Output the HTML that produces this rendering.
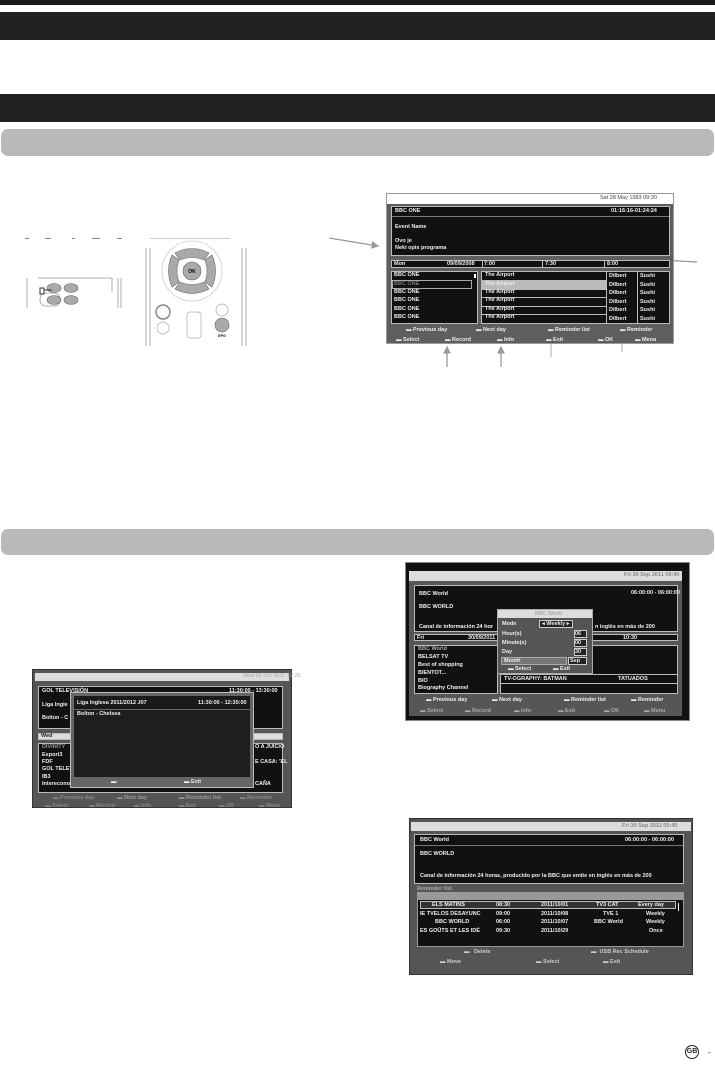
<!DOCTYPE html>
<html><head><meta charset="utf-8"><style>
*{margin:0;padding:0;box-sizing:border-box}
body{width:715px;height:1067px;background:#fff;position:relative;overflow:hidden;font-family:"Liberation Sans",sans-serif}
.a{position:absolute}
.t{position:absolute;font-size:5.5px;font-weight:bold;color:#eee;white-space:nowrap;line-height:1}
.bx{position:absolute;background:#111;border:1px solid #bbb}
</style></head><body>
<!-- headers -->
<div class="a" style="left:0;top:0;width:715px;height:5px;background:#1a1a1a"></div>
<div class="a" style="left:0;top:12px;width:715px;height:28px;background:#222"></div>
<div class="a" style="left:0;top:94px;width:715px;height:28px;background:#222"></div>
<div class="a" style="left:1px;top:129px;width:713px;height:27px;background:#b9b9b9;border-radius:7px"></div>
<div class="a" style="left:1px;top:529px;width:713px;height:26px;background:#b9b9b9;border-radius:7px"></div>

<!-- remotes -->
<svg class="a" style="left:0;top:230px" width="260" height="120" viewBox="0 0 260 120">
<g fill="#888"><rect x="25" y="8" width="4" height="1"/><rect x="45" y="8" width="6" height="1"/><rect x="72" y="8" width="3" height="1"/><rect x="92" y="8" width="8" height="1"/><rect x="117" y="8" width="5" height="1"/><rect x="150" y="8" width="80" height="1" fill="#ccc"/></g>
<g stroke="#999" fill="none" stroke-width="0.8">
<path d="M27 48 V78 M121 48 V78 M118 48 V78"/>
<path d="M38 48 H112 V62"/>
<rect x="40" y="63" width="20" height="13" rx="6"/>
<path d="M146 18 V116 M150 18 V116 M242 18 V116 M246 18 V116"/>
<circle cx="192" cy="41" r="30" stroke="#ccc"/>
</g>
<g fill="#aaa" stroke="#666" stroke-width="0.6">
<ellipse cx="54" cy="58" rx="7" ry="4.5"/><ellipse cx="71" cy="58" rx="7" ry="4.5"/><ellipse cx="54" cy="70" rx="7" ry="4.5"/><ellipse cx="71" cy="70" rx="7" ry="4.5"/>
<path d="M175 23 Q192 14 209 23 L204 30 Q192 25 180 30Z"/>
<path d="M175 59 Q192 68 209 59 L204 52 Q192 57 180 52Z"/>
<path d="M172 25 Q165 41 172 57 L179 52 Q175 41 179 30Z"/>
<path d="M212 25 Q219 41 212 57 L205 52 Q209 41 205 30Z"/>
<circle cx="192" cy="41" r="9"/>
<circle cx="222" cy="95" r="7"/>
</g>
<circle cx="163" cy="82" r="7" fill="#fff" stroke="#888" stroke-width="1.5"/>
<circle cx="163" cy="98" r="6" fill="#fff" stroke="#aaa" stroke-width=".7"/>
<circle cx="222" cy="80" r="6" fill="#fff" stroke="#aaa" stroke-width=".7"/>
<rect x="187" y="82" width="14" height="26" rx="3" fill="#fff" stroke="#aaa" stroke-width=".7"/>
<path d="M44 60 H52 M40 58 h4 v6 h-4z" stroke="#333" stroke-width="1" fill="none"/>
<text x="192" y="43" font-size="5" text-anchor="middle" font-family="Liberation Sans" font-weight="bold">OK</text>
<text x="222" y="107" font-size="3.5" text-anchor="middle" font-family="Liberation Sans" font-weight="bold">EPG</text>
</svg>

<!-- arrows top -->
<svg class="a" style="left:0;top:0" width="715" height="380">
<defs><marker id="m" markerWidth="6" markerHeight="6" refX="5" refY="3" orient="auto"><path d="M0 0 L6 3 L0 6Z" fill="#999"/></marker></defs>
<g stroke="#999" stroke-width="1.3" marker-end="url(#m)">
<line x1="329" y1="238" x2="378" y2="246"/>
<line x1="697" y1="262" x2="662" y2="260"/>
<line x1="447" y1="367" x2="447" y2="347"/>
<line x1="501" y1="367" x2="501" y2="347"/>
</g>
<g stroke="#999" stroke-width=".8"><line x1="551" y1="357" x2="551" y2="335"/><line x1="622" y1="352" x2="622" y2="337"/></g>
</svg>

<!-- top EPG screen -->
<div class="a" style="left:386px;top:193px;width:288px;height:151px;background:#5e5e5e;border:1px solid #999">
 <div class="a" style="left:0;top:0;width:286px;height:10px;background:#fff"></div>
 <div class="t" style="left:213px;top:2px;color:#444;font-weight:normal">Sat 28 May 1983 09:30</div>
 <div class="bx" style="left:4px;top:12px;width:279px;height:50px"></div>
 <div class="a" style="left:5px;top:22px;width:277px;height:1px;background:#777"></div>
 <div class="t" style="left:8px;top:15px">BBC ONE</div><div class="t" style="left:224px;top:15px">01:16:16-01:24:24</div>
 <div class="t" style="left:8px;top:31px">Event Name</div>
 <div class="t" style="left:8px;top:45px">Ovo je</div><div class="t" style="left:8px;top:52px">Neki opis programa</div>
 <div class="bx" style="left:4px;top:66px;width:279px;height:8px"></div>
 <div class="t" style="left:7px;top:67.5px">Mon</div><div class="t" style="left:60px;top:67.5px">09/09/2008</div><div class="t" style="left:97px;top:67.5px">7:00</div><div class="t" style="left:158px;top:67.5px">7:30</div><div class="t" style="left:220px;top:67.5px">8:00</div>
 <div class="a" style="left:95px;top:66px;width:1px;height:8px;background:#bbb"></div><div class="a" style="left:155px;top:66px;width:1px;height:8px;background:#bbb"></div><div class="a" style="left:217px;top:66px;width:1px;height:8px;background:#bbb"></div>
 <div class="bx" style="left:4px;top:77px;width:87px;height:53px"></div>
 <div class="bx" style="left:94px;top:77px;width:189px;height:53px;background:#bbb"></div>
 <div class="t" style="left:7px;top:79px">BBC ONE</div><div class="t" style="left:7px;top:88px;color:#777">BBC ONE</div><div class="a" style="left:5px;top:86px;width:80px;height:9px;border:1px solid #aaa"></div>
 <div class="t" style="left:7px;top:96px">BBC ONE</div><div class="t" style="left:7px;top:104px">BBC ONE</div><div class="t" style="left:7px;top:113px">BBC ONE</div><div class="t" style="left:7px;top:121px">BBC ONE</div>
 <div class="a" style="left:87px;top:80px;width:2px;height:4px;background:#fff"></div>
 <!-- rows -->
 <div class="a" style="left:95px;top:78px;width:187px;height:51px">
  <div class="a" style="left:0;top:0;width:124px;height:8px;background:#111"></div>
  <div class="a" style="left:0;top:9px;width:124px;height:7.5px;background:#bbb"></div>
  <div class="a" style="left:0;top:17.5px;width:124px;height:7.5px;background:#111"></div>
  <div class="a" style="left:0;top:26px;width:124px;height:7.5px;background:#111"></div>
  <div class="a" style="left:0;top:34.5px;width:124px;height:7.5px;background:#111"></div>
  <div class="a" style="left:0;top:43px;width:124px;height:8px;background:#111"></div>
  <div class="a" style="left:125px;top:0;width:62px;height:51px;background:#111"></div>
  <div class="a" style="left:155px;top:0;width:1px;height:51px;background:#bbb"></div>
 </div>
 <div class="t" style="left:98px;top:79px">The Airport</div><div class="t" style="left:98px;top:88px">The Airport</div><div class="t" style="left:98px;top:96px">The Airport</div><div class="t" style="left:98px;top:104px">The Airport</div><div class="t" style="left:98px;top:113px">The Airport</div><div class="t" style="left:98px;top:121px">The Airport</div>
 <div class="a" style="left:222px;top:78px;line-height:8.5px;font-size:5.5px;font-weight:bold;color:#eee">Dilbert<br>Dilbert<br>Dilbert<br>Dilbert<br>Dilbert<br>Dilbert</div>
 <div class="a" style="left:253px;top:78px;line-height:8.5px;font-size:5.5px;font-weight:bold;color:#eee">Sushi<br>Sushi<br>Sushi<br>Sushi<br>Sushi<br>Sushi</div>
 <div class="t" style="left:19px;top:134px">▬ Previous day</div><div class="t" style="left:89px;top:134px">▬ Next day</div><div class="t" style="left:161px;top:134px">▬ Reminder list</div><div class="t" style="left:233px;top:134px">▬ Reminder</div>
 <div class="t" style="left:9px;top:144px">▬ Select</div><div class="t" style="left:58px;top:144px">▬ Record</div><div class="t" style="left:110px;top:144px">▬ Info</div><div class="t" style="left:159px;top:144px">▬ Exit</div><div class="t" style="left:211px;top:144px">▬ OK</div><div class="t" style="left:248px;top:144px">▬ Menu</div>
</div>

<!-- left screen photo -->
<div class="a" style="left:32px;top:669px;width:260px;height:139px;background:#555;border:1px solid #333">
 <div class="a" style="left:2px;top:3px;width:254px;height:8px;background:#ddd"></div>
 <div class="t" style="left:210px;top:4px;color:#aaa;font-weight:normal">Wed 05 Oct 2011 12:26</div>
 <div class="bx" style="left:5px;top:16px;width:245px;height:43px"></div>
 <div class="t" style="left:9px;top:19px">GOL TELEVISIÓN</div><div class="t" style="left:196px;top:19px">11:30:00 - 13:30:00</div>
 <div class="t" style="left:9px;top:33px">Liga Ingle</div><div class="t" style="left:9px;top:46px">Bolton - C</div>
 <div class="bx" style="left:5px;top:63px;width:245px;height:7px;background:#ddd"></div><div class="t" style="left:8px;top:64px;color:#222">Wed</div>
 <div class="bx" style="left:5px;top:73px;width:245px;height:50px"></div>
 <div class="t" style="left:9px;top:75px;color:#999">DIVINITY</div><div class="t" style="left:9px;top:83px">Esport3</div><div class="t" style="left:9px;top:90px">FDF</div><div class="t" style="left:9px;top:97px">GOL TELEVI</div><div class="t" style="left:9px;top:105px">IB3</div><div class="t" style="left:9px;top:112px">Interecono</div>
 <div class="t" style="left:222px;top:75px">O A JUICIO</div><div class="t" style="left:222px;top:90px">E CASA: 'EL</div><div class="t" style="left:222px;top:112px">CAÑA</div>
 <div class="t" style="left:20px;top:126px;color:#888">▬ Previous day</div><div class="t" style="left:84px;top:126px;color:#999">▬ Next day</div><div class="t" style="left:146px;top:126px;color:#999">▬ Reminder list</div><div class="t" style="left:207px;top:126px;color:#888">▬ Reminder</div>
 <div class="t" style="left:12px;top:134px;color:#888">▬ Select</div><div class="t" style="left:56px;top:134px;color:#888">▬ Record</div><div class="t" style="left:101px;top:134px;color:#888">▬ Info</div><div class="t" style="left:146px;top:134px;color:#888">▬ Exit</div><div class="t" style="left:186px;top:134px;color:#888">▬ OK</div><div class="t" style="left:226px;top:134px;color:#888">▬ Menu</div>
 <div class="a" style="left:37px;top:22px;width:184px;height:96px;background:#666;border:1px solid #bbb">
  <div class="a" style="left:3px;top:3px;width:176px;height:13px;background:#1a1a1a"></div>
  <div class="a" style="left:3px;top:17px;width:176px;height:67px;background:#1e1e1e"></div>
  <div class="t" style="left:6px;top:8px">Liga Inglesa 2011/2012 J07</div><div class="t" style="left:127px;top:8px">11:30:00 - 12:30:00</div>
  <div class="t" style="left:6px;top:19px">Bolton - Chelsea</div>
  <div class="t" style="left:40px;top:87px">▬</div><div class="t" style="left:113px;top:87px">▬ Exit</div>
 </div>
</div>

<!-- top-right photo -->
<div class="a" style="left:405px;top:562px;width:285px;height:159px;background:#111;border:1px solid #888">
 <div class="a" style="left:3px;top:8px;width:273px;height:145px;background:#565656"></div>
 <div class="a" style="left:3px;top:8px;width:273px;height:10px;background:#ddd"></div>
 <div class="t" style="left:218px;top:10px;color:#888">Fri 30 Sep 2011 09:40</div>
 <div class="bx" style="left:8px;top:22px;width:264px;height:47px"></div>
 <div class="t" style="left:13px;top:29px">BBC World</div><div class="t" style="left:225px;top:28px">06:00:00 - 06:00:00</div>
 <div class="t" style="left:13px;top:42px">BBC WORLD</div>
 <div class="t" style="left:13px;top:62px">Canal de información 24 hor</div><div class="t" style="left:189px;top:62px">n inglés en más de 200</div>
 <div class="bx" style="left:8px;top:71px;width:264px;height:7px"></div>
 <div class="t" style="left:11px;top:72.5px">Fri</div><div class="t" style="left:62px;top:72.5px">30/09/2011</div><div class="t" style="left:217px;top:72.5px">10:30</div>
 <div class="bx" style="left:8px;top:82px;width:84px;height:49px"></div>
 <div class="t" style="left:12px;top:84px;color:#aaa">BBC World</div><div class="t" style="left:12px;top:92px">BELSAT TV</div><div class="t" style="left:12px;top:100px">Best of shopping</div><div class="t" style="left:12px;top:108px">BIENTOT...</div><div class="t" style="left:12px;top:116px">BIO</div><div class="t" style="left:12px;top:123px">Biography Channel</div>
 <div class="bx" style="left:94px;top:82px;width:178px;height:49px"></div>
 <div class="a" style="left:95px;top:111px;width:176px;height:1px;background:#bbb"></div><div class="a" style="left:95px;top:120px;width:176px;height:1px;background:#bbb"></div>
 <div class="t" style="left:98px;top:114px">TV-OGRAPHY: BATMAN</div><div class="t" style="left:212px;top:114px">TATUADOS</div>
 <div class="t" style="left:20px;top:135px">▬ Previous day</div><div class="t" style="left:86px;top:135px">▬ Next day</div><div class="t" style="left:158px;top:135px">▬ Reminder list</div><div class="t" style="left:225px;top:135px">▬ Reminder</div>
 <div class="t" style="left:14px;top:146px;color:#aaa">▬ Select</div><div class="t" style="left:59px;top:146px;color:#aaa">▬ Record</div><div class="t" style="left:108px;top:146px;color:#aaa">▬ Info</div><div class="t" style="left:152px;top:146px;color:#aaa">▬ Exit</div><div class="t" style="left:198px;top:146px;color:#aaa">▬ OK</div><div class="t" style="left:238px;top:146px;color:#aaa">▬ Menu</div>
 <div class="a" style="left:91px;top:46px;width:96px;height:65px;background:#555;border:1px solid #aaa">
  <div class="a" style="left:0;top:0;width:94px;height:8px;background:#ddd"></div><div class="t" style="left:37px;top:1.5px;color:#999;font-weight:normal">BBC World</div>
  <div class="t" style="left:4px;top:12px">Mode</div><div class="a" style="left:41px;top:10px;width:34px;height:8px;border:1px solid #ccc;background:#222"></div><div class="t" style="left:44px;top:11.5px">◂ Weekly ▸</div>
  <div class="t" style="left:4px;top:22px">Hour(s)</div><div class="a" style="left:76px;top:20px;width:13px;height:8px;border:1px solid #ccc;background:#222"></div><div class="t" style="left:77px;top:21.5px">06</div>
  <div class="t" style="left:4px;top:31px">Minute(s)</div><div class="a" style="left:76px;top:29px;width:13px;height:8px;border:1px solid #ccc;background:#222"></div><div class="t" style="left:77px;top:30.5px">00</div>
  <div class="t" style="left:4px;top:40px">Day</div><div class="a" style="left:76px;top:38px;width:13px;height:8px;border:1px solid #ccc;background:#222"></div><div class="t" style="left:77px;top:39.5px">30</div>
  <div class="a" style="left:3px;top:47px;width:66px;height:8px;background:#777;border:1px solid #aaa"></div><div class="t" style="left:6px;top:49px">Month</div><div class="a" style="left:70px;top:47px;width:19px;height:8px;border:1px solid #ccc;background:#222"></div><div class="t" style="left:72px;top:48.5px">Sep</div>
  <div class="t" style="left:10px;top:57px">▬ Select</div><div class="t" style="left:55px;top:57px">▬ Exit</div>
 </div>
</div>

<!-- bottom-right photo -->
<div class="a" style="left:409px;top:818px;width:284px;height:157px;background:#555;border:1px solid #333">
 <div class="a" style="left:1px;top:3px;width:280px;height:9px;background:#ddd"></div>
 <div class="t" style="left:212px;top:5px;color:#888">Fri 30 Sep 2011 09:40</div>
 <div class="bx" style="left:4px;top:15px;width:270px;height:50px"></div>
 <div class="a" style="left:5px;top:26px;width:268px;height:1px;background:#777"></div>
 <div class="t" style="left:10px;top:19px">BBC World</div><div class="t" style="left:215px;top:19px">06:00:00 - 06:00:00</div>
 <div class="t" style="left:10px;top:33px">BBC WORLD</div>
 <div class="t" style="left:10px;top:55px">Canal de información 24 horas, producido por la BBC que emite en inglés en más de 200</div>
 <div class="t" style="left:7px;top:68px;color:#aaa">Reminder list</div>
 <div class="a" style="left:7px;top:73px;width:267px;height:7px;background:#999"></div>
 <div class="bx" style="left:7px;top:80px;width:267px;height:48px;border-color:#999"></div>
 <div class="a" style="left:10px;top:82px;width:256px;height:8px;background:#333;border:1px solid #bbb"></div>
 <div class="a" style="left:268px;top:84px;width:1px;height:8px;background:#fff"></div>
 <div class="t" style="left:22px;top:84px">ELS MATINS</div><div class="t" style="left:86px;top:84px">08:30</div><div class="t" style="left:131px;top:84px">2011/10/01</div><div class="t" style="left:186px;top:84px">TV3 CAT</div><div class="t" style="left:228px;top:84px">Every day</div>
 <div class="t" style="left:10px;top:93px">IE TVELOS DESAYUNC</div><div class="t" style="left:86px;top:93px">09:00</div><div class="t" style="left:131px;top:93px">2011/10/08</div><div class="t" style="left:193px;top:93px">TVE 1</div><div class="t" style="left:236px;top:93px">Weekly</div>
 <div class="t" style="left:25px;top:101px">BBC WORLD</div><div class="t" style="left:86px;top:101px">06:00</div><div class="t" style="left:131px;top:101px">2011/10/07</div><div class="t" style="left:184px;top:101px">BBC World</div><div class="t" style="left:236px;top:101px">Weekly</div>
 <div class="t" style="left:10px;top:110px">ES GOÛTS ET LES IDÉ</div><div class="t" style="left:86px;top:110px">09:30</div><div class="t" style="left:131px;top:110px">2011/10/29</div><div class="t" style="left:239px;top:110px">Once</div>
 <div class="t" style="left:54px;top:131px;color:#ccc">▬ &nbsp; Delete</div><div class="t" style="left:181px;top:131px;color:#ccc">▬ &nbsp;USB Rec Schedule</div>
 <div class="t" style="left:30px;top:141px;color:#ccc">▬ Move</div><div class="t" style="left:126px;top:141px;color:#ccc">▬ Select</div><div class="t" style="left:193px;top:141px;color:#ccc">▬ Exit</div>
</div>

<!-- GB -->
<div class="a" style="left:685px;top:1045px;width:14px;height:14px;border:1.2px solid #222;border-radius:50%;font-size:7px;font-weight:bold;text-align:center;line-height:12px;color:#222">GB</div>
<div class="a" style="left:708px;top:1048px;font-size:8px;color:#222">-</div>
</body></html>
